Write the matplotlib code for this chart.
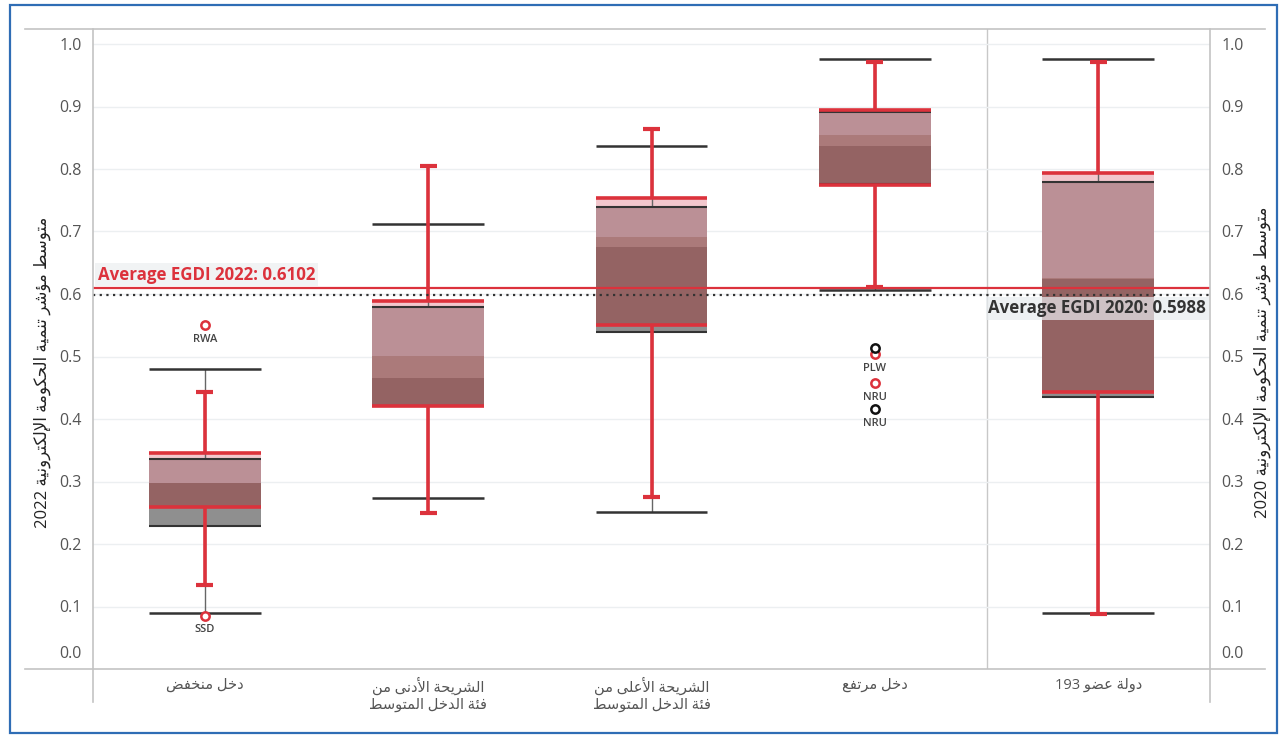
import matplotlib.pyplot as plt
from matplotlib.lines import Line2D
from matplotlib.patches import Rectangle

# ---- values ----
cats = ['دخل منخفض', 'الشريحة الأدنى من\nفئة الدخل المتوسط', 'الشريحة الأعلى من\nفئة الدخل المتوسط',
        'دخل مرتفع', '193 دولة عضو']

# EGDI 2022 (red)
lo_2022 = [0.135, 0.249, 0.276, 0.612, 0.088]
q1_2022 = [0.260, 0.421, 0.551, 0.774, 0.444]
med_2022 = [0.297, 0.501, 0.691, 0.854, 0.625]
q3_2022 = [0.346, 0.589, 0.754, 0.894, 0.793]
hi_2022 = [0.443, 0.804, 0.864, 0.971, 0.972]

# EGDI 2020 (grey / black)
lo_2020 = [0.089, 0.273, 0.251, 0.606, 0.090]
q1_2020 = [0.229, 0.421, 0.539, 0.776, 0.435]
med_2020 = [0.297, 0.465, 0.675, 0.837, 0.624]
q3_2020 = [0.336, 0.580, 0.740, 0.892, 0.780]
hi_2020 = [0.480, 0.712, 0.837, 0.976, 0.976]

out22_cat = [0, 0, 3, 3]
out22_val = [0.550, 0.085, 0.5035, 0.457]
out22_lab = ['RWA', 'SSD', 'PLW', 'NRU']
out20_cat = [3, 3]
out20_val = [0.513, 0.4155]
out20_lab = ['', 'NRU']

avg_2022 = 0.6102
avg_2020 = 0.5988

ylab_2022 = 'متوسط مؤشر تنمية الحكومة الإلكترونية 2022'
ylab_2020 = 'متوسط مؤشر تنمية الحكومة الإلكترونية 2020'

# ---- tiny arabic shaper (no raqm in matplotlib) ----
BASE = {'ا': 0xFE8D, 'أ': 0xFE83, 'إ': 0xFE87, 'ؤ': 0xFE85, 'ئ': 0xFE89, 'ة': 0xFE93, 'ت': 0xFE95,
        'ح': 0xFEA1, 'خ': 0xFEA5, 'د': 0xFEA9, 'ر': 0xFEAD, 'س': 0xFEB1, 'ش': 0xFEB5, 'ض': 0xFEBD,
        'ط': 0xFEC1, 'ع': 0xFEC9, 'ف': 0xFED1, 'ك': 0xFED9, 'ل': 0xFEDD, 'م': 0xFEE1, 'ن': 0xFEE5,
        'ه': 0xFEE9, 'و': 0xFEED, 'ى': 0xFEEF, 'ي': 0xFEF1}
DUAL = set('ئتحخسشضطعفكلمنهي')
LAM_ALEF = {'ا': 0xFEFB, 'أ': 0xFEF7, 'إ': 0xFEF9}


def shape_word(w):
    if not any(c in BASE for c in w):
        return w
    units = []
    i = 0
    while i < len(w):
        if w[i] == 'ل' and i + 1 < len(w) and w[i + 1] in LAM_ALEF:
            units.append(('LA', w[i + 1]))
            i += 2
        else:
            units.append(('C', w[i]))
            i += 1
    out = []
    for k, (kind, ch) in enumerate(units):
        prev_j = k > 0 and units[k - 1][0] == 'C' and units[k - 1][1] in DUAL
        if kind == 'LA':
            out.append(chr(LAM_ALEF[ch] + (1 if prev_j else 0)))
            continue
        b = BASE[ch]
        next_j = ch in DUAL and k + 1 < len(units) and (units[k + 1][0] == 'LA' or units[k + 1][1] in BASE)
        if ch in DUAL:
            c = b + (3 if prev_j and next_j else 2 if next_j else 1 if prev_j else 0)
        else:
            c = b + (1 if prev_j else 0)
        out.append(chr(c))
    return ''.join(reversed(out))


def visual(line):
    words = line.split(' ')
    if words[0].isdigit():  # this one was laid out left-to-right in the original
        return words[0] + ' ' + visual(' '.join(words[1:]))
    return ' '.join(shape_word(w) for w in reversed(words))


plt.rcParams['font.family'] = ['Open Sans', 'DejaVu Sans']

RED = '#dc323c'
GREY_TXT = '#555555'

fig = plt.figure(figsize=(12.81, 7.36), dpi=100)
ax = fig.add_axes([93 / 1281, 1 - 669 / 736, (1210 - 93) / 1281, (669 - 29) / 736])
ax.set_xlim(-0.5, 4.5)
ax.set_ylim(0, 1 + 15 / 625)

xs = list(range(len(cats)))
bw = 0.5
cap = 0.038

# 2020 boxes (opaque grey halves)
ax.bar(xs, [m - q for m, q in zip(med_2020, q1_2020)], bottom=q1_2020, width=bw, color='#8f8f8f', zorder=2)
ax.bar(xs, [q - m for q, m in zip(q3_2020, med_2020)], bottom=med_2020, width=bw, color='#b0b0b0', zorder=2)
# 2022 boxes (translucent red halves)
ax.bar(xs, [m - q for m, q in zip(med_2022, q1_2022)], bottom=q1_2022, width=bw, color='#a00000', alpha=0.3, zorder=3)
ax.bar(xs, [q - m for q, m in zip(q3_2022, med_2022)], bottom=med_2022, width=bw, color='#d7485a', alpha=0.3, zorder=3)

# 2020 whiskers / box lines
ax.vlines(xs, lo_2020, q1_2020, color='#666666', lw=1, zorder=4)
ax.vlines(xs, q3_2020, hi_2020, color='#666666', lw=1, zorder=4)
for arr in (lo_2020, hi_2020):
    ax.hlines(arr, [x - bw / 2 for x in xs], [x + bw / 2 for x in xs], color='#333333', lw=1.8, zorder=4)
for arr in (q1_2020, q3_2020):
    ax.hlines(arr, [x - bw / 2 for x in xs], [x + bw / 2 for x in xs], color='#333333', lw=1.5, zorder=4)

# 2022 whiskers / box lines
ax.vlines(xs, lo_2022, q1_2022, color=RED, lw=2.6, zorder=5)
ax.vlines(xs, q3_2022, hi_2022, color=RED, lw=2.6, zorder=5)
for arr in (lo_2022, hi_2022):
    ax.hlines(arr, [x - cap for x in xs], [x + cap for x in xs], color=RED, lw=3, zorder=5)
for arr in (q1_2022, q3_2022):
    ax.hlines(arr, [x - bw / 2 for x in xs], [x + bw / 2 for x in xs], color=RED, lw=2.6, zorder=5)

# outliers
ax.plot(out22_cat, out22_val, 'o', ms=6, mfc='white', mec=RED, mew=1.8, ls='none', zorder=6)
ax.plot(out20_cat, out20_val, 'o', ms=6, mfc='white', mec='#111111', mew=1.8, ls='none', zorder=6)
for c, v, lab in list(zip(out22_cat, out22_val, out22_lab)) + list(zip(out20_cat, out20_val, out20_lab)):
    ax.annotate(lab, (c, v), xytext=(0, -6), textcoords='offset points', ha='center', va='top',
                fontsize=8, color='#444444', fontweight='semibold', zorder=7)

# average lines
ax.axhline(avg_2022, color=RED, lw=1.6, zorder=6)
ax.axhline(avg_2020, color='#333333', lw=1.6, ls=(0, (1, 2)), zorder=6)
ax.text(-0.478, avg_2022 + 0.006, f'Average EGDI 2022: {avg_2022:.4f}', color=RED, fontsize=12.2,
        fontweight='bold', ha='left', va='bottom', zorder=7,
        bbox=dict(boxstyle='square,pad=0.15', fc='#eef0f2', ec='none', alpha=0.8))
ax.text(4.482, avg_2020 - 0.007, f'Average EGDI 2020: {avg_2020:.4f}', color='#333333', fontsize=12.2,
        fontweight='bold', ha='right', va='top', zorder=7,
        bbox=dict(boxstyle='square,pad=0.15', fc='#e8ecef', ec='none', alpha=0.7))

# grid, ticks, separators
ax.set_yticks([0.1 * i for i in range(1, 11)])
ax.set_yticklabels([f'{0.1 * i:.1f}' for i in range(1, 11)])
ax.grid(axis='y', color='#eceff1', lw=1, zorder=0)
ax.tick_params(axis='y', length=0, labelsize=11.5, labelcolor=GREY_TXT, labelright=True, pad=8)
ax.annotate('0.0', (0, 0), xycoords='axes fraction', xytext=(-8, 11), textcoords='offset points',
            ha='right', va='center', fontsize=11.5, color=GREY_TXT)
ax.annotate('0.0', (1, 0), xycoords='axes fraction', xytext=(8, 11), textcoords='offset points',
            ha='left', va='center', fontsize=11.5, color=GREY_TXT)
ax.set_xticks(xs)
ax.set_xticklabels(['\n'.join(visual(l) for l in c.split('\n')) for c in cats])
ax.tick_params(axis='x', length=0, labelsize=10.5, labelcolor=GREY_TXT, pad=6)
ax.axvline(3.5, color='#c8c8c8', lw=1, zorder=1)
for s in ax.spines.values():
    s.set_visible(False)

# frame lines that run past the plot area
line_c = '#c3c3c3'
fig.add_artist(Line2D([25 / 1281, 1265 / 1281], [1 - 29 / 736] * 2, color=line_c, lw=1.2))
fig.add_artist(Line2D([25 / 1281, 1265 / 1281], [1 - 669 / 736] * 2, color=line_c, lw=1.2))
fig.add_artist(Line2D([93 / 1281] * 2, [1 - 29 / 736, 1 - 702 / 736], color=line_c, lw=1.2))
fig.add_artist(Line2D([1210 / 1281] * 2, [1 - 29 / 736, 1 - 702 / 736], color=line_c, lw=1.2))
fig.add_artist(Rectangle((10 / 1281, 3 / 736), 1267 / 1281, 728 / 736, transform=fig.transFigure,
                         fill=False, ec='#2f6db5', lw=1.6))

fig.text(42 / 1281, 1 - 372 / 736, visual(ylab_2022), rotation=90, ha='center', va='center',
         fontsize=12, color='#222222')
fig.text(1262 / 1281, 1 - 362 / 736, visual(ylab_2020), rotation=90, ha='center', va='center',
         fontsize=12, color='#222222')

fig.savefig('out.png', dpi=100)
